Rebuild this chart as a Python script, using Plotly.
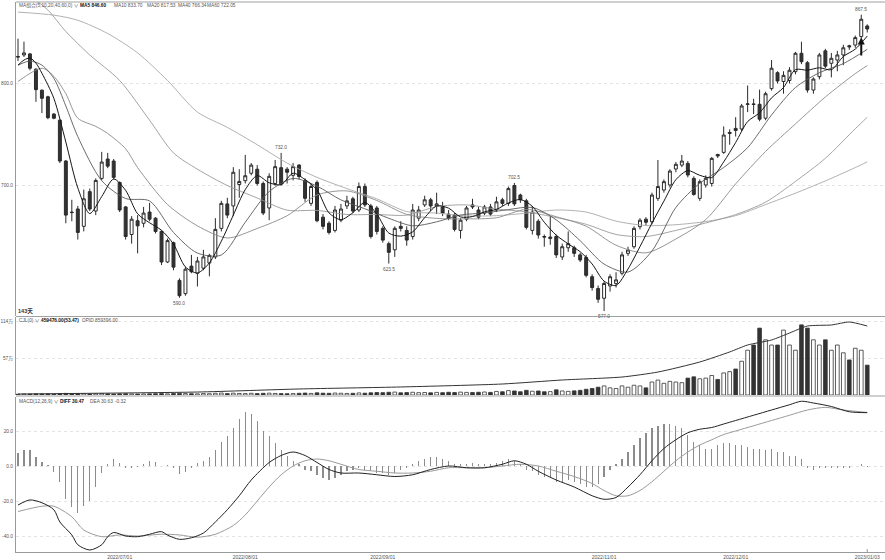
import plotly.graph_objects as go

# ---------------- data ----------------
opens = [826.5, 828, 829, 814, 793.5, 787, 770, 764, 724, 674, 677, 660, 694, 675, 707, 726, 724, 703, 679, 652,
         665.5, 663, 674, 668, 655, 625, 644, 607, 594, 621, 614, 619, 624, 630, 658, 682, 680, 701, 704.7, 712,
         716, 702, 678, 702, 717.5, 716, 710, 720, 705, 682.5, 703, 669, 663, 656, 666, 680, 687, 676, 699, 680,
         678, 658, 643, 637, 660, 656, 650, 668, 681, 686, 680, 679, 672, 671, 656, 667, 681, 676, 673, 679,
         676, 686, 682.5, 700, 690.7, 685, 656, 665, 650, 648, 650, 630, 639, 639, 632, 629.5, 610.6, 599, 589.5, 601.5,
         604, 614, 633.5, 640, 659.6, 667, 664.5, 687.4, 695.6, 700.5, 716.2, 720, 721.7, 707, 687.4, 700.5, 702, 730.5, 732.5, 751,
         756, 755.4, 779.5, 780, 779.6, 766, 795, 810.6, 802, 803, 811.6, 829.6, 820.4, 793.6, 806.7, 832, 819.8, 823, 828, 837,
         837.7, 846, 856.4]
highs = [844, 841, 830, 815, 794, 788, 771, 765, 725, 686, 680, 696, 697, 707, 733, 732, 726, 704, 680, 670,
         671, 679, 683, 669, 656, 648, 645, 609, 620, 632, 630, 637, 633, 668, 685, 688, 718, 716, 730, 722,
         720, 704, 712, 725, 732, 718, 722, 721, 707, 702, 705, 672, 665, 680, 682, 690, 689, 703, 702, 682,
         680, 660, 645, 660, 665, 660, 682, 680, 690, 688, 693, 684, 676, 673, 668, 680, 687, 679, 681, 682,
         689, 688, 699, 702.5, 692, 687, 680, 667, 652, 670, 652, 643, 655, 641, 634, 632, 613, 602, 606, 613,
         615, 635, 640, 660, 668, 669, 693, 725, 706, 716, 723, 730, 724, 709, 706, 710, 728, 731, 758, 755,
         767, 780, 798, 785, 794, 792, 823, 812, 812, 816, 831, 841, 822, 806, 830, 834, 830, 832, 838, 838,
         847, 867.5, 858]
lows = [822, 826, 813, 782, 771, 765, 765, 722, 663, 665, 647, 655, 675, 671, 705, 717, 706, 674, 647, 643,
        633.5, 659, 665, 653, 622, 624, 617, 590, 592, 614, 601, 617, 611, 628, 655, 668, 670, 688, 702, 710,
        700, 671, 666, 700, 700, 702, 705, 706, 684, 680, 664, 657, 652, 654, 664, 677, 673, 674, 679, 648,
        652, 644, 623.5, 630, 655, 641, 647, 665, 679, 675, 672, 670, 666, 655, 648, 665, 677, 667, 671, 670,
        674, 680, 680, 680, 683, 657, 652, 648, 640, 642, 629, 627, 635, 630, 625, 610, 597, 585, 577, 596,
        600, 612, 631, 638, 657, 661, 662, 685, 693, 698, 713, 718, 708, 690, 685, 698, 699, 727, 731, 740,
        748, 753, 772, 770, 763, 764, 793, 800, 790, 800, 809, 819, 791, 790, 804, 815, 806, 812, 818, 833,
        835, 844, 850]
closes = [826, 830, 815, 794, 785.5, 766.5, 766, 724, 671, 673.5, 654, 687, 677, 705, 723, 719, 708, 676, 650, 667,
          660.5, 673, 667, 655, 625, 646, 620, 592, 618, 615.5, 626, 630, 631.5, 657, 682.5, 671, 713, 704, 709.6, 720,
          702, 673, 709, 718.5, 701.5, 713, 718.5, 708.7, 687.5, 699, 665.5, 660, 654, 676, 677, 685, 675, 699, 681, 650,
          655, 646.5, 634.5, 658, 658, 646.5, 676, 676, 686, 680, 682, 673, 668, 657, 666, 678, 679, 669, 679, 672,
          684, 682.5, 697, 682, 686, 659, 674, 651.5, 649.5, 649.5, 632, 640, 643, 633.5, 627, 612, 600, 588.5, 604, 610.6,
          607.5, 632, 636.8, 658, 666, 664, 690.7, 699, 703.8, 714.2, 720.8, 724, 710.3, 691.3, 703.8, 707, 726.6, 729, 749.5, 752,
          754, 778, 780, 779.5, 765, 790, 815, 802.5, 808, 813, 829.6, 821.4, 793.6, 804.4, 828, 817, 824.7, 828, 835, 836,
          845, 863, 853.4]

# moving averages read at sample positions (candle index, value)
ma5_x = [0, 1, 2, 3] + list(range(4, 143, 2))
ma5 = [818, 823, 825, 820, 810.1, 785.4, 742.6, 697.7, 672.5, 689.2, 706.4, 695.2, 672.3, 663.5, 656.1, 642.6,
       620.2, 614.3, 624.2, 645.4, 671.0, 696.0, 709.7, 702.7, 700.8, 712.1, 705.8, 695.8, 673.2, 666.5, 673.4,
       683.4, 672.0, 653.4, 650.4, 654.6, 668.5, 680.0, 677.8, 669.2, 669.6, 674.2, 676.6, 682.9, 686.3, 679.6,
       664.0, 651.3, 642.8, 635.1, 623.1, 606.3, 602.1, 618.2, 640.1, 663.1, 684.7, 705.7, 714.6, 710.0, 707.8,
       723.2, 742.2, 762.7, 771.3, 785.9, 796.1, 813.6, 813.1, 815.4, 813.5, 826.5, 833.7, 846.5]
ma10_x = [0, 2, 4, 6, 8] + list(range(10, 143, 4))
ma10 = [818, 822, 818, 805, 778, 748.0, 704.7, 687.3, 684.9, 654.0, 633.8, 631.9, 664.0, 694.1, 706.9, 699.4,
        685.9, 677.2, 667.9, 660.5, 664.4, 671.1, 673.1, 676.4, 678.5, 666.3, 645.9, 623.0, 615.2, 635.8, 678.5,
        702.2, 717.7, 737.1, 769.2, 796.1, 810.6, 819.5, 833.5]
ma20_x = [0, 4, 6, 8, 10, 13, 15, 18, 20, 25, 30, 35, 40, 45, 50, 55, 60, 65, 70, 75, 80, 85, 90, 95, 100,
          105, 110, 115, 120, 125, 130, 135, 140, 142]
ma20 = [802, 815, 807, 790, 766, 758, 751, 736, 717.6, 681.4, 660.5, 648.6, 657.9, 670.4, 690.7, 694.7, 685.3,
        671.7, 667.8, 667.3, 668.4, 676.6, 669.4, 660.1, 641.5, 634.0, 647.6, 666.6, 701.6, 733.4, 760.4, 786.8,
        809.7, 817.6]
ma40_x = [0, 3, 5, 8, 12, 17, 22, 26, 30, 35, 40, 45, 50, 55, 60, 65, 70, 75, 80, 85, 90, 95, 100, 105, 110,
          115, 120, 125, 130, 135, 140, 142]
ma40 = [886, 881, 872, 851, 828, 803, 764, 732, 716, 700, 687.8, 675.9, 675.6, 671.6, 671.6, 671.0, 679.3, 681.0,
        676.9, 674.2, 668.6, 662.0, 652.0, 650.0, 656.0, 663.3, 671.5, 683.7, 704.0, 726.7, 755.7, 766.9]
ma60_x = [0, 6, 10, 15, 20, 25, 30, 35, 40, 45, 50, 55, 60, 65, 70, 75, 80, 85, 90, 95, 100, 105, 110, 115, 120,
          125, 130, 135, 140, 142]
ma60 = [870, 867, 862, 849, 830, 803, 772, 757, 740, 722, 708, 697, 686.9, 674.5, 673.0, 670.2, 670.5, 672.9,
        676.0, 674.0, 665.1, 660.8, 661.6, 664.7, 670.5, 681.3, 692.5, 704.5, 717.6, 723.2]

# volume (thousand contracts)
volume_k = [
    12, 15, 14, 18, 15, 16, 14, 22, 25, 18, 20, 22, 16, 19, 22, 18, 15, 18, 20, 16,
    15, 16, 18, 20, 22, 18, 24, 26, 22, 20, 18, 22, 20, 26, 30, 22, 28, 24, 22, 26,
    22, 26, 28, 24, 22, 20, 22, 26, 30, 24, 34, 28, 26, 30, 27, 24, 26, 32, 28, 34,
    38, 36, 42, 45, 34, 38, 42, 36, 38, 34, 40, 36, 42, 38, 44, 40, 38, 42, 46, 40,
    55, 50, 68, 62, 50, 72, 58, 62, 50, 52, 80, 62, 56, 64, 72, 88, 100, 120, 140, 110,
    100, 140, 120, 150, 140, 110, 200, 230, 180, 210, 200, 190, 260, 280, 250, 260, 300, 240, 340, 360,
    400, 520, 690, 770, 1030, 850, 770, 770, 1000, 770, 690, 1080, 1030, 850, 770, 850, 690, 770, 650, 540,
    720, 690, 459.476]
opi_x = [0, 30, 47, 64, 81, 91, 101, 107, 114, 119, 122, 126, 129, 132, 136, 139, 142]
opi = [12500, 37000, 75000, 100000, 137000, 187000, 224000, 286000, 411000, 536000, 623000, 685000,
       772000, 859000, 872000, 909000, 859396]

# MACD histogram, DIFF and DEA
macd = [7.4, 9.1, 9.0, 5.3, 2.5, 0.5, -3.2, -9, -18.9, -23.2, -27, -22.9, -19.8, -12, -4.2, 1.1, 3.8, 1.9, -1.3,
        -1.0, -0.6, 1.1, 3.1, 2.5, 0.2, 0.6, -1.3, -4.6, -3.2, -1.3, 1.5,
        3, 5, 9, 14, 17, 22, 27, 31, 30, 26, 20, 17, 13, 9, 6, 3, 1, -2, -3, -5,
        -7, -8, -7, -5, -3, -2, -1, -2, -3, -4, -4, -5, -4, -2, -1, 1, 3, 4, 5, 5,
        4, 3, 1, 1, 1, 2, 1, 1, 1, 2, 3, 4, 3, 1, -2, -3, -5, -6, -7, -9,
        -9, -8, -9, -10, -12, -12, -10, -6, -2, 1, 4, 8, 12, 16, 19, 22, 23, 24, 24, 23,
        22, 18, 14, 12, 10, 10, 12, 13, 13, 12, 12, 11, 10, 10, 9, 10, 8, 8, 6, 6,
        4, -1, -2, -1, -1, -1, -1, -1, -1, 0, 1, -0.32]
dif_x = [0, 2, 4, 6, 7, 9, 10, 12, 14, 15, 16, 18, 20, 22, 24, 25, 27, 29, 31, 33, 35, 37, 39, 42, 44, 46, 48,
         50, 52, 54, 57, 60, 63, 66, 69, 72, 75, 78, 81, 83, 85, 87, 90, 93, 96, 98, 100, 102, 104, 106, 108,
         110, 112, 114, 116, 118, 120, 123, 126, 129, 131, 133, 136, 139, 142]
dif = [-22.3, -19.4, -21, -25, -32, -39.4, -45, -48, -45, -40.4, -38, -40, -40.4, -39, -37.5, -39.5, -41.9, -41,
       -38.3, -32, -25, -17, -8, 2, 6, 8, 6, 2, -2, -4, -4, -5, -6, -5, -2, 0, -1, -1, 1, 3, 1, -3, -8, -12, -17,
       -19, -18, -12, -5, 3, 10, 15, 19, 21, 22, 24, 26, 29, 32, 35, 37, 36, 34, 31, 30.47]
dea_x = [0, 4, 6, 9, 11, 14, 17, 20, 24, 27, 30, 33, 36, 38, 40, 42, 44, 46, 48, 50, 52, 54, 57, 60, 63, 66, 69,
         72, 75, 78, 81, 84, 87, 90, 93, 96, 98, 100, 102, 104, 106, 108, 110, 112, 114, 116, 118, 120, 123, 126,
         129, 132, 135, 138, 142]
dea = [-26, -23, -23, -29, -36.6, -40.4, -39.4, -40, -39, -39.4, -40.7, -39, -34, -28, -20, -12, -5, 0, 3, 4, 3,
       1, -2, -3, -4, -4, -3, -1, -1, -1, 0, 1, 0, -3, -6, -10, -14, -17, -17, -14, -9, -3, 3, 8, 12, 15, 18, 20,
       23, 26, 29, 32, 33.5, 32, 30.63]

date_ticks = [17, 38, 61, 98, 120, 142]
date_labels = ["2022/07/01", "2022/08/01", "2022/09/01", "2022/11/01", "2022/12/01", "2023/01/03"]

# extreme-value labels (candle index, value, above?)
ext_idx = [141, 44, 83, 62, 27, 98]
ext_val = [867.5, 732.0, 702.5, 623.5, 590.0, 577.0]
ext_up = [True, True, True, False, False, False]

# ---------------- figure ----------------
W, H = 885, 560
FONT = "Liberation Sans, Noto Sans CJK SC, sans-serif"
FS = 4.8


def py(pix):
    return 1 - pix / H


def px(pix):
    return pix / W


idx = list(range(len(closes)))
xr = [-0.334, 144.97]
xdom = [px(16), 1]

fig = go.Figure()

fig.add_trace(go.Candlestick(
    x=idx, open=opens, high=highs, low=lows, close=closes,
    increasing=dict(line=dict(color="#2b2b2b", width=1), fillcolor="white"),
    decreasing=dict(line=dict(color="#2b2b2b", width=1), fillcolor="#333333"),
    whiskerwidth=0, showlegend=False, hoverinfo="skip", xaxis="x", yaxis="y"))

for xs, ys, col, w in [(ma60_x, ma60, "#a8a8a8", 0.9), (ma40_x, ma40, "#9a9a9a", 0.9),
                       (ma20_x, ma20, "#8a8a8a", 0.9), (ma10_x, ma10, "#5a5a5a", 0.9),
                       (ma5_x, ma5, "#151515", 1.0)]:
    fig.add_trace(go.Scatter(x=xs, y=ys, mode="lines", showlegend=False, hoverinfo="skip",
                             line=dict(color=col, width=w, shape="spline", smoothing=0.8),
                             xaxis="x", yaxis="y"))

inc = [c >= o for o, c in zip(opens, closes)]
fig.add_trace(go.Bar(x=idx, y=[v * 1000 for v in volume_k], width=0.62,
                     marker=dict(color=["white" if u else "#333333" for u in inc],
                                 line=dict(color="#333333", width=0.8)),
                     showlegend=False, hoverinfo="skip", xaxis="x2", yaxis="y2"))
fig.add_trace(go.Scatter(x=opi_x, y=opi, mode="lines", showlegend=False, hoverinfo="skip",
                         line=dict(color="#333333", width=1, shape="spline", smoothing=0.6),
                         xaxis="x2", yaxis="y4"))

fig.add_trace(go.Bar(x=idx, y=macd, width=0.2, marker=dict(color="#8c8c8c", line=dict(width=0)),
                     showlegend=False, hoverinfo="skip", xaxis="x3", yaxis="y3"))
fig.add_trace(go.Scatter(x=dea_x, y=dea, mode="lines", showlegend=False, hoverinfo="skip",
                         line=dict(color="#9a9a9a", width=1, shape="spline", smoothing=0.8),
                         xaxis="x3", yaxis="y3"))
fig.add_trace(go.Scatter(x=dif_x, y=dif, mode="lines", showlegend=False, hoverinfo="skip",
                         line=dict(color="#222222", width=1, shape="spline", smoothing=0.8),
                         xaxis="x3", yaxis="y3"))

tickfont = dict(family=FONT, size=FS, color="#555555")
xcommon = dict(domain=xdom, range=xr, showgrid=False, zeroline=False, showticklabels=False,
               fixedrange=True, showline=False)
ycommon = dict(showgrid=True, gridcolor="#e4e4e4", griddash="dot", gridwidth=1, zeroline=False,
               showline=True, linecolor="#9a9a9a", linewidth=1, ticks="", tickfont=tickfont,
               ticklabelstandoff=1, fixedrange=True)

fig.update_layout(
    width=W, height=H, margin=dict(l=0, r=0, t=0, b=0), paper_bgcolor="white", plot_bgcolor="white",
    showlegend=False, bargap=0,
    xaxis=dict(**xcommon, anchor="y", rangeslider=dict(visible=False)),
    xaxis2=dict(**xcommon, anchor="y2", matches="x"),
    xaxis3=dict(domain=xdom, range=xr, showgrid=False, zeroline=False, fixedrange=True, anchor="y3",
                matches="x", showline=True, linecolor="#9a9a9a", linewidth=1,
                tickmode="array", tickvals=date_ticks, ticktext=date_labels, ticks="",
                ticklabelstandoff=0, tickfont=dict(family=FONT, size=5, color="#555555")),
    yaxis=dict(**ycommon, domain=[py(316), py(2)], range=[572.1, 879.9], anchor="x",
               tickmode="array", tickvals=[700, 800], ticktext=["700.0", "800.0"]),
    yaxis2=dict(**ycommon, domain=[py(395), py(317)], range=[0, 1201600], anchor="x2",
                tickmode="array", tickvals=[570000, 1140000], ticktext=["57万", "114万"]),
    yaxis4=dict(overlaying="y2", range=[0, 971500], visible=False, fixedrange=True),
    yaxis3=dict(**ycommon, domain=[py(552), py(397)], range=[-49.14, 39.43], anchor="x3",
                tickmode="array", tickvals=[-40, -20, 0, 20], ticktext=["-40.0", "-20.0", "0.0", "20.0"]),
)

# panel separators / borders
for yy in [2, 316.5, 396]:
    fig.add_shape(type="line", xref="paper", yref="paper", x0=px(16), x1=1, y0=py(yy), y1=py(yy),
                  line=dict(color="#a0a0a0", width=1))
# small tick under the last date
fig.add_shape(type="line", xref="x3", yref="paper", x0=142, x1=142, y0=py(552), y1=py(549),
              line=dict(color="#9a9a9a", width=1))

anns = []


def label(x, y, text, size=FS, color="#555555", anchor="left"):
    anns.append(dict(xref="paper", yref="paper", x=px(x), y=py(y), text=text, showarrow=False,
                     xanchor=anchor, yanchor="middle", font=dict(family=FONT, size=size, color=color)))


label(17, 5.5, "MA组合(5,10,20,40,60,0) ∨")
label(78, 5.5, "<b>MA5 846.60</b>", color="#111111")
label(112, 5.5, "MA10 833.70")
label(145, 5.5, "MA20 817.53")
label(176, 5.5, "MA40 766.34")
label(205, 5.5, "MA60 722.05")
label(16, 311.5, "<b>143天</b>", size=5.6, color="#333333")
label(17, 320, "CJL(0) ∨")
label(39, 320, "<b>459476.00(53.47)</b>", color="#111111")
label(80, 320, "OPID 859396.00")
label(17, 401.5, "MACD(12,26,9) ∨")
label(58, 401.5, "<b>DIFF 30.47</b>", color="#111111")
label(88, 401.5, "DEA 30.63")
label(113, 401.5, "-0.32")

for i, v, up in zip(ext_idx, ext_val, ext_up):
    anns.append(dict(xref="x", yref="y", x=i, y=v, text=f"{v:.1f}", showarrow=False,
                     yanchor="bottom" if up else "top", yshift=1 if up else -1,
                     font=dict(family=FONT, size=FS, color="#555555")))

# buy-signal arrow under the last rally candle
anns.append(dict(xref="x", yref="y", axref="x", ayref="y", x=141, y=845, ax=141, ay=826,
                 showarrow=True, arrowhead=2, arrowsize=0.7, arrowwidth=2, arrowcolor="#111111", text=""))

fig.update_layout(annotations=anns)
fig.write_html("out.html", config={"displayModeBar": False, "staticPlot": True},
               post_script="document.body.style.margin='0px';document.body.style.overflow='hidden';")
